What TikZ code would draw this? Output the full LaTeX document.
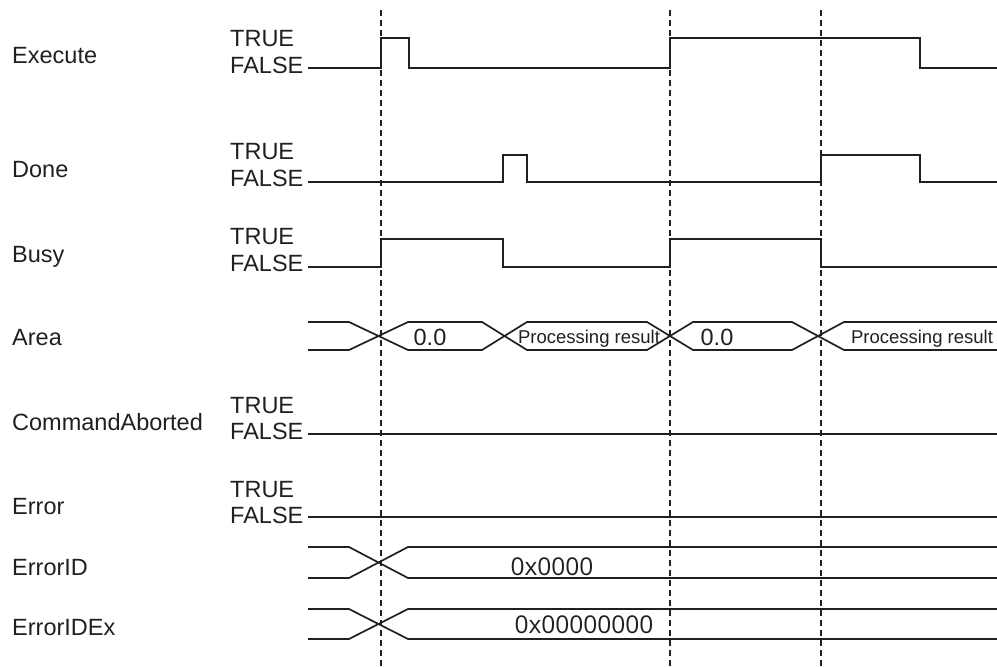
\documentclass[tikz,border=0pt]{standalone}
\usepackage{fontspec}
\setmainfont{Liberation Sans}
\newfontfamily\hexfont{Open Sans}
\definecolor{ink}{RGB}{35,31,32}
\begin{document}
\begin{tikzpicture}[x=1pt,y=-1pt,
  sig/.style={draw=ink, line width=1.7pt, line join=miter},
  vdash/.style={draw=ink, line width=2pt, dash pattern=on 6pt off 4pt},
  lbl/.style={anchor=base west, inner sep=0pt, font=\fontsize{23.5}{28}\selectfont, text=ink},
  val/.style={anchor=base, inner sep=0pt, font=\fontsize{23.5}{28}\selectfont, text=ink},
  pr/.style={anchor=base, inner sep=0pt, font=\fontsize{18.5}{22}\selectfont, text=ink},
  hex/.style={anchor=base, inner sep=0pt, font=\hexfont\fontsize{24.5}{28}\selectfont, text=ink}]
\useasboundingbox (0,0) rectangle (997,667);

% dashed time markers
\draw[vdash] (381,10) -- (381,667);
\draw[vdash] (670,10) -- (670,667);
\draw[vdash] (821,10) -- (821,667);

% signal names
\node[lbl] (nExec) at (12,63) {Execute};
\node[lbl] (nDone) at (12,177) {Done};
\node[lbl] (nBusy) at (12,262) {Busy};
\node[lbl] (nArea) at (12,345) {Area};
\node[lbl] (nCmd)  at (12,430) {CommandAborted};
\node[lbl] (nErr)  at (12,514) {Error};
\node[lbl] (nEID)  at (12,575) {ErrorID};
\node[lbl] (nEIDx) at (12,635) {ErrorIDEx};

% TRUE / FALSE
\node[lbl] (t1) at (230,46) {TRUE};  \node[lbl] (f1) at (230,73) {FALSE};
\node[lbl] (t2) at (230,159) {TRUE}; \node[lbl] (f2) at (230,186) {FALSE};
\node[lbl] (t3) at (230,244) {TRUE}; \node[lbl] (f3) at (230,271) {FALSE};
\node[lbl] (t5) at (230,413) {TRUE}; \node[lbl] (f5) at (230,439) {FALSE};
\node[lbl] (t6) at (230,497) {TRUE}; \node[lbl] (f6) at (230,523) {FALSE};

% Execute
\draw[sig] (308,68) -- (381,68) -- (381,38) -- (409,38) -- (409,68) -- (670,68)
  -- (670,38) -- (920,38) -- (920,68) -- (997,68);
% Done
\draw[sig] (308,182) -- (503,182) -- (503,155) -- (527,155) -- (527,182) -- (821,182)
  -- (821,155) -- (920,155) -- (920,182) -- (997,182);
% Busy
\draw[sig] (308,267) -- (381,267) -- (381,239) -- (503,239) -- (503,267) -- (670,267)
  -- (670,239) -- (821,239) -- (821,267) -- (997,267);

% Area (bus)
\draw[sig] (308,322) -- (349,322) -- (408,350) -- (482,350) -- (527,322) -- (647,322)
  -- (693,350) -- (792,350) -- (844,322) -- (997,322);
\draw[sig] (308,350) -- (349,350) -- (408,322) -- (482,322) -- (527,350) -- (647,350)
  -- (693,322) -- (792,322) -- (844,350) -- (997,350);
\node[val] (a1) at (430,345) {0.0};
\node[pr]  (a2) at (589,343) {Processing result};
\node[val] (a3) at (717,345) {0.0};
\node[pr]  (a4) at (922,343) {Processing result};

% CommandAborted, Error
\draw[sig] (308,434) -- (997,434);
\draw[sig] (308,517) -- (997,517);

% ErrorID
\draw[sig] (308,547) -- (349,547) -- (408,578) -- (997,578);
\draw[sig] (308,578) -- (349,578) -- (408,547) -- (997,547);
\node[hex] (e1) at (552,575) {0x0000};
% ErrorIDEx
\draw[sig] (308,609) -- (349,609) -- (408,639) -- (997,639);
\draw[sig] (308,639) -- (349,639) -- (408,609) -- (997,609);
\node[hex] (e2) at (584,633) {0x00000000};
\end{tikzpicture}
\end{document}
